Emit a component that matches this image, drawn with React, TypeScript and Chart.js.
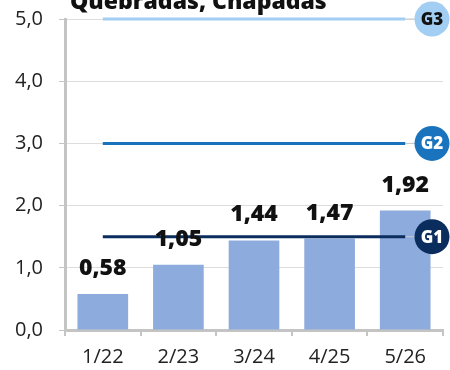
import React, { useEffect, useRef } from "react";
import { Chart, registerables } from "chart.js";

Chart.register(...registerables);

const title = "Quebradas, Chapadas";
const categories = ["1/22", "2/23", "3/24", "4/25", "5/26"];
const values = [0.58, 1.05, 1.44, 1.47, 1.92];
const goalNames = ["G1", "G2", "G3"];
const goalValues = [1.5, 3.0, 5.0];
const goalColors = ["#0b2d5e", "#1a74bd", "#a3cef4"];
const goalTextColors = ["#ffffff", "#ffffff", "#111111"];
const yMin = 0;
const yMax = 5;
const yStep = 1;

const FONT = "'Open Sans', 'DejaVu Sans', sans-serif";
const comma = (v: number, d: number) => v.toFixed(d).replace(".", ",");

const overlay = {
  id: "overlay",
  afterDatasetsDraw(chart: any) {
    const { ctx, chartArea, scales } = chart;
    const x = scales.x;
    const y = scales.y;
    const x0 = x.getPixelForValue(0);
    const x1 = x.getPixelForValue(categories.length - 1);
    const cx = chartArea.right - 11;
    ctx.save();
    // goal lines with badge at the right
    goalValues.forEach((g, i) => {
      const py = y.getPixelForValue(g);
      ctx.strokeStyle = "#c8c8c8";
      ctx.lineWidth = 1;
      ctx.beginPath();
      ctx.moveTo(x1, py);
      ctx.lineTo(cx, py);
      ctx.stroke();
      ctx.strokeStyle = goalColors[i];
      ctx.lineWidth = 3;
      ctx.beginPath();
      ctx.moveTo(x0, py);
      ctx.lineTo(x1, py);
      ctx.stroke();
      ctx.fillStyle = goalColors[i];
      ctx.beginPath();
      ctx.arc(cx, py, 17.5, 0, Math.PI * 2);
      ctx.fill();
      ctx.fillStyle = goalTextColors[i];
      ctx.font = `800 17px ${FONT}`;
      ctx.textAlign = "center";
      ctx.textBaseline = "middle";
      ctx.fillText(goalNames[i], cx, py + 1);
    });
    // value labels above bars
    const meta = chart.getDatasetMeta(0);
    ctx.fillStyle = "#111111";
    ctx.font = `800 23px ${FONT}`;
    ctx.textAlign = "center";
    ctx.textBaseline = "alphabetic";
    meta.data.forEach((bar: any, i: number) => {
      ctx.fillText(comma(values[i], 2), bar.x, bar.y - 19);
    });
    // title, partly above the canvas
    ctx.textAlign = "left";
    ctx.font = `800 23px ${FONT}`;
    ctx.fillText(title, 70, 9);
    ctx.restore();
  },
};

export default function App() {
  const ref = useRef<HTMLCanvasElement | null>(null);
  useEffect(() => {
    if (!ref.current) return;
    const chart = new Chart(ref.current, {
      type: "bar",
      data: {
        labels: categories,
        datasets: [
          {
            data: values,
            backgroundColor: "#8eabdd",
            categoryPercentage: 1,
            barPercentage: 0.67,
          },
        ],
      },
      options: {
        animation: false,
        responsive: false,
        maintainAspectRatio: false,
        layout: { padding: { top: 19, right: 7, left: 0, bottom: 0 } },
        plugins: { legend: { display: false }, tooltip: { enabled: false }, title: { display: false } },
        scales: {
          x: {
            afterFit(scale: any) {
              scale.height = 40;
              scale.paddingLeft = 0;
              scale.paddingRight = 0;
            },
            grid: {
              offset: true,
              drawOnChartArea: false,
              drawTicks: true,
              tickLength: 6,
              tickColor: "#c4c4c4",
              lineWidth: 2,
            },
            border: { display: true, color: "#c4c4c4", width: 3 },
            ticks: {
              color: "#222222",
              font: { family: FONT, size: 20 },
              padding: 9,
            },
          },
          y: {
            min: yMin,
            max: yMax,
            afterFit(scale: any) {
              scale.width = 65;
              scale.paddingTop = 0;
              scale.paddingBottom = 0;
            },
            grid: {
              color: "#dddddd",
              lineWidth: 1,
              drawTicks: true,
              tickLength: 6,
              tickColor: "#c4c4c4",
            },
            border: { display: true, color: "#c4c4c4", width: 3 },
            ticks: {
              stepSize: yStep,
              color: "#222222",
              font: { family: FONT, size: 20 },
              padding: 16,
              callback: (v: any) => comma(Number(v), 1),
            },
          },
        },
      },
      plugins: [overlay],
    });
    return () => chart.destroy();
  }, []);
  return (
    <div style={{ position: "fixed", left: 0, top: 0, width: 450, height: 370, background: "#ffffff" }}>
      <canvas ref={ref} width={450} height={370} style={{ width: 450, height: 370, display: "block" }} />
    </div>
  );
}
